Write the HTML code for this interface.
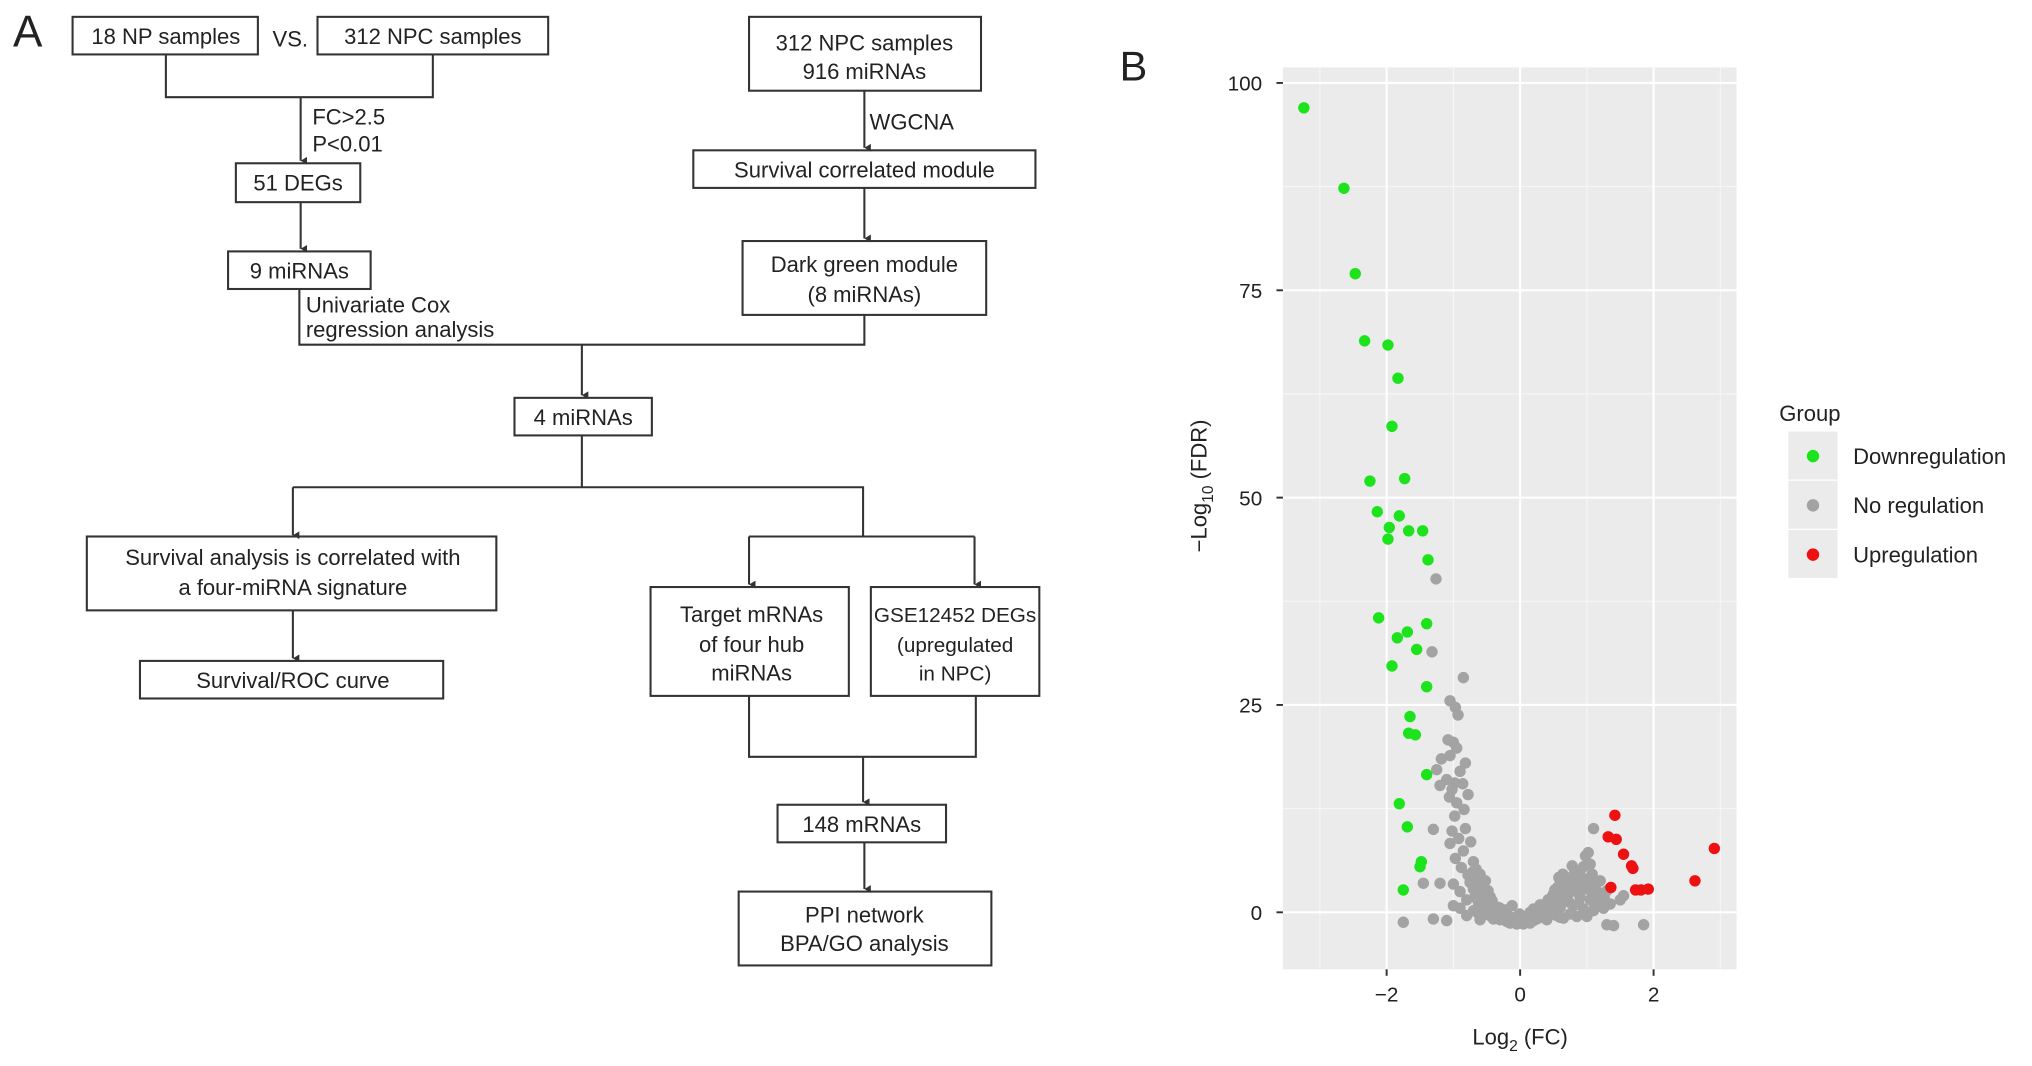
<!DOCTYPE html>
<html><head><meta charset="utf-8"><style>
html,body{margin:0;padding:0;background:#fff}
svg{display:block}
text{font-family:"Liberation Sans",sans-serif;fill:#222}
</style></head><body>
<svg id="fig" width="2032" height="1066" viewBox="0 0 1568 822.6" preserveAspectRatio="none">
<g id="flow" stroke="#333" stroke-width="1.6" fill="none">
<defs><marker id="ah" markerWidth="6" markerHeight="6" refX="3" refY="5" orient="auto" markerUnits="userSpaceOnUse"><path d="M0,0 L3,5 L6,0" fill="#333" stroke="none"/></marker></defs>
<rect x="56" y="13" width="143" height="29"/>
<rect x="245" y="13" width="178" height="29"/>
<path d="M128,42V75H334V42M232,75V124" marker-end="url(#ah)"/>
<rect x="182" y="126" width="96" height="30"/>
<path d="M232,156V192" marker-end="url(#ah)"/>
<rect x="176" y="194" width="110" height="29"/>
<rect x="578" y="13" width="179" height="57"/>
<path d="M667,70V114" marker-end="url(#ah)"/>
<rect x="535" y="116" width="264" height="29"/>
<path d="M667,145V184" marker-end="url(#ah)"/>
<rect x="573" y="186" width="188" height="57"/>
<path d="M231,223V266H667V243"/>
<path d="M449,266V305" marker-end="url(#ah)"/>
<rect x="397" y="307" width="106" height="29"/>
<path d="M449,336V376M226,376H666V414"/>
<path d="M226,376V413" marker-end="url(#ah)"/>
<rect x="67" y="414" width="316" height="57"/>
<path d="M226,471V508" marker-end="url(#ah)"/>
<rect x="108" y="510" width="234" height="29"/>
<path d="M578,414H752"/>
<path d="M578,414V451" marker-end="url(#ah)"/>
<path d="M752,414V451" marker-end="url(#ah)"/>
<rect x="502" y="453" width="153" height="84"/>
<rect x="672" y="453" width="130" height="84"/>
<path d="M578,537V584H753V537"/>
<path d="M666,584V619" marker-end="url(#ah)"/>
<rect x="600" y="621" width="130" height="29"/>
<path d="M667,650V686" marker-end="url(#ah)"/>
<rect x="570" y="688" width="195" height="57"/>
</g>
<g font-size="17" text-anchor="middle">
<text x="10" y="36" font-size="34" text-anchor="start">A</text>
<text x="128" y="34">18 NP samples</text>
<text x="224" y="36">VS.</text>
<text x="334" y="34">312 NPC samples</text>
<text x="241" y="96" text-anchor="start">FC&gt;2.5</text>
<text x="241" y="117" text-anchor="start">P&lt;0.01</text>
<text x="230" y="147">51 DEGs</text>
<text x="231" y="215">9 miRNAs</text>
<text x="236" y="241" text-anchor="start">Univariate Cox</text>
<text x="236" y="260" text-anchor="start">regression analysis</text>
<text x="667" y="39">312 NPC samples</text>
<text x="667" y="61">916 miRNAs</text>
<text x="671" y="100" text-anchor="start">WGCNA</text>
<text x="667" y="137">Survival correlated module</text>
<text x="667" y="210">Dark green module</text>
<text x="667" y="233">(8 miRNAs)</text>
<text x="450" y="328">4 miRNAs</text>
<text x="226" y="436">Survival analysis is correlated with</text>
<text x="226" y="459">a four-miRNA signature</text>
<text x="226" y="531">Survival/ROC curve</text>
<text x="580" y="480">Target mRNAs</text>
<text x="580" y="503">of four hub</text>
<text x="580" y="525">miRNAs</text>
<text x="737" y="480" font-size="16">GSE12452 DEGs</text>
<text x="737" y="503" font-size="16">(upregulated</text>
<text x="737" y="525" font-size="16">in NPC)</text>
<text x="665" y="642">148 mRNAs</text>
<text x="667" y="712">PPI network</text>
<text x="667" y="734">BPA/GO analysis</text>
</g>
<g id="chart"></g>
</svg>
<script>
const downPts=[[-3.24,97],[-2.64,87.3],[-2.47,77],[-2.33,68.9],[-1.98,68.4],[-1.83,64.4],[-1.92,58.6],[-2.25,52],[-1.73,52.3],[-2.14,48.3],[-1.81,47.8],[-1.96,46.4],[-1.98,45],[-1.67,46],[-1.46,46],[-1.38,42.5],[-2.12,35.5],[-1.40,34.8],[-1.69,33.8],[-1.84,33.1],[-1.55,31.7],[-1.92,29.7],[-1.40,27.2],[-1.65,23.6],[-1.67,21.6],[-1.57,21.4],[-1.40,16.6],[-1.81,13.1],[-1.69,10.3],[-1.48,6.1],[-1.50,5.5],[-1.75,2.7]];
const upPts=[[1.42,11.7],[1.32,9.1],[1.44,8.8],[1.55,7],[1.67,5.6],[1.69,5.3],[1.36,3],[1.73,2.7],[1.81,2.7],[1.92,2.8],[2.62,3.8],[2.91,7.7]];
const nonePts=[[-1.26,40.2],[-1.32,31.4],[-0.85,28.3],[-1.05,25.5],[-0.97,24.7],[-0.93,23.8],[-1.08,20.8],[-1.0,20.5],[-0.95,19.8],[-1.18,18.5],[-1.05,18.9],[-0.82,18.0],[-1.25,17.2],[-0.9,17.0],[-1.1,16.0],[-0.98,15.6],[-0.86,15.5],[-1.2,15.3],[-1.02,14.8],[-0.78,14.2],[-1.06,13.9],[-0.95,13.2],[-0.84,12.4],[-0.98,11.6],[-1.3,10.0],[-1.02,9.8],[-0.82,10.1],[-0.92,8.9],[-1.05,8.3],[-0.74,8.5],[-0.85,7.4],[-0.97,6.5],[-0.7,6.1],[-0.88,5.4],[-1.2,3.5],[-1.0,3.4],[-0.78,4.5],[-0.65,4.2],[-0.9,2.5],[-0.7,2.8],[-0.6,3.4],[-0.55,2.2],[-0.8,1.5],[-0.62,1.0],[-0.5,1.6],[-0.45,0.8],[-0.9,0.5],[-0.7,0.2],[-0.55,-0.3],[-0.4,0.2],[-0.35,-0.6],[-0.3,-0.9],[-0.25,-0.4],[-0.2,-1.1],[-0.15,-1.3],[-0.1,-1.2],[-0.05,-1.4],[0,-1.3],[0.05,-1.4],[0.1,-1.2],[0.15,-1.3],[0.2,-1.0],[0.25,-0.8],[0.3,-0.6],[0.35,-0.3],[0.4,0.2],[0.45,0.8],[0.5,-0.2],[0.55,1.2],[0.6,0.5],[0.62,2.0],[0.68,1.4],[0.7,2.8],[0.75,3.5],[0.8,0.8],[0.85,4.2],[0.9,3.0],[0.95,5.5],[0.98,6.8],[1.02,7.2],[1.08,4.6],[1.1,10.1],[1.05,1.5],[1.15,2.6],[1.2,3.8],[1.25,0.5],[1.3,-1.5],[1.35,1.0],[1.5,1.5],[1.55,2.0],[1.85,-1.5],[1.4,-1.6],[-1.75,-1.2],[-1.3,-0.8],[-1.1,-1.0],[-0.01,-0.2],[-0.2,0.3],[0.2,0.4],[-1.45,3.5],[-0.12,0.8],[0.3,0.9],[-0.45,1.9],[0.5,2.2],[0.6,3.5],[0.8,4.5],[0.9,1.8],[0.7,4.0],[-0.6,0.5],[1.0,-0.5],[0.15,0.0],[-0.3,0.5],[-0.4,-0.8],[0.4,-0.9],[-0.6,-0.9],[0.65,-0.7],[0.85,-0.5],[-0.8,-0.4],[1.1,0.2],[-1.0,0.8]];
const denseNonePts=[[-0.72,4.8],[-0.66,5.2],[-0.6,4.6],[-0.58,3.0],[-0.64,2.4],[-0.52,3.8],[-0.48,2.6],[-0.42,1.4],[-0.5,0.4],[-0.38,-0.2],[-0.33,0.6],[-0.28,0.0],[-0.22,-0.5],[-0.18,-0.8],[-0.08,-0.6],[-0.03,-0.9],[0.03,-0.8],[0.08,-0.5],[0.12,-0.9],[0.18,-0.4],[0.22,-0.1],[0.28,0.2],[0.33,0.5],[0.38,1.0],[0.42,1.5],[0.48,1.9],[0.52,2.7],[0.56,3.0],[0.58,4.2],[0.64,4.6],[0.66,3.2],[0.72,2.2],[0.74,1.2],[0.78,2.6],[0.82,3.6],[0.86,2.4],[0.88,1.0],[0.92,3.8],[0.96,2.8],[1.0,4.0],[1.04,3.2],[1.08,2.2],[1.12,3.4],[1.18,1.6],[1.22,2.2],[1.26,1.8],[1.3,2.6],[1.12,0.8],[0.95,0.4],[0.75,-0.2],[0.55,-0.4],[0.9,5.0],[0.78,5.6],[1.05,5.8],[0.6,-0.6],[-0.45,-0.4],[-0.55,1.2],[-0.68,1.8],[-0.75,3.6],[-0.62,-0.2]];
const xTicks=[-2,0,2];
const yTicks=[0,25,50,75,100];
const xMinor=[-3,-1,1,3];
const yMinor=[12.5,37.5,62.5,87.5];
const legendLabels=["Downregulation","No regulation","Upregulation"];
const legendColors=["#1de31d","#a3a3a3","#ee1111"];

const NS="http://www.w3.org/2000/svg";
const g=document.getElementById('chart');
const P={l:990,r:1340,t:52,b:748};
const sx=v=>1173+v*51.5;
const sy=v=>704-v*6.4;
function mk(tag,at,parent){const e=document.createElementNS(NS,tag);for(const k in at)e.setAttribute(k,at[k]);(parent||g).appendChild(e);return e;}
let e=mk('rect',{x:P.l,y:P.t,width:P.r-P.l,height:P.b-P.t,fill:'#ebebeb'});


xMinor.forEach(v=>{const l=mk('line',{x1:sx(v),x2:sx(v),y1:P.t,y2:P.b,stroke:'#f7f7f7','stroke-width':0.8});});
yMinor.forEach(v=>{const l=mk('line',{x1:P.l,x2:P.r,y1:sy(v),y2:sy(v),stroke:'#f7f7f7','stroke-width':0.8});});
xTicks.forEach(v=>{
 const l=mk('line',{x1:sx(v),x2:sx(v),y1:P.t,y2:P.b,stroke:'#fff','stroke-width':1.6});
 
 
 mk('line',{x1:sx(v),x2:sx(v),y1:P.b,y2:P.b+5,stroke:'#333','stroke-width':1.5});
 const t=mk('text',{x:sx(v),y:P.b+25,'text-anchor':'middle','font-size':16,fill:'#444'});
 t.textContent=v<0?'\u2212'+(-v):String(v);
 
 
});
yTicks.forEach(v=>{
 const l=mk('line',{x1:P.l,x2:P.r,y1:sy(v),y2:sy(v),stroke:'#fff','stroke-width':1.6});
 
 
 mk('line',{x1:P.l-5,x2:P.l,y1:sy(v),y2:sy(v),stroke:'#333','stroke-width':1.5});
 const t=mk('text',{x:P.l-16,y:sy(v)+6,'text-anchor':'end','font-size':16,fill:'#444'});
 t.textContent=String(v);
 
 
});
function dots(arr,color,name){arr.forEach(p=>{const c=mk('circle',{cx:sx(p[0]),cy:sy(p[1]),r:4.4,fill:color});});}
dots(nonePts,legendColors[1],'point-no-regulation');
dots(denseNonePts,legendColors[1],'point-no-regulation');
dots(downPts,legendColors[0],'point-downregulation');
dots(upPts,legendColors[2],'point-upregulation');
let t=mk('text',{x:1173,y:806,'text-anchor':'middle','font-size':17});
t.innerHTML='Log<tspan font-size="12" dy="5">2</tspan><tspan dy="-5"> (FC)</tspan>';


t=mk('text',{x:0,y:0,'text-anchor':'middle','font-size':17,transform:'translate(931,375) rotate(-90)'});
t.innerHTML='\u2212Log<tspan font-size="12" dy="5">10</tspan><tspan dy="-5"> (FDR)</tspan>';


t=mk('text',{x:864,y:62,'font-size':32});
t.textContent='B';


t=mk('text',{x:1373,y:325,'font-size':17});
t.textContent='Group';


legendLabels.forEach((lab,i)=>{
 const y=333+i*38;
 const r=mk('rect',{x:1380,y:y,width:38,height:37,fill:'#ebebeb'});
 
 
 mk('circle',{cx:1399,cy:y+19,r:4.8,fill:legendColors[i]});
 const tt=mk('text',{x:1430,y:y+25,'font-size':17});
 tt.textContent=lab;
 
 
});
</script>
</body></html>
